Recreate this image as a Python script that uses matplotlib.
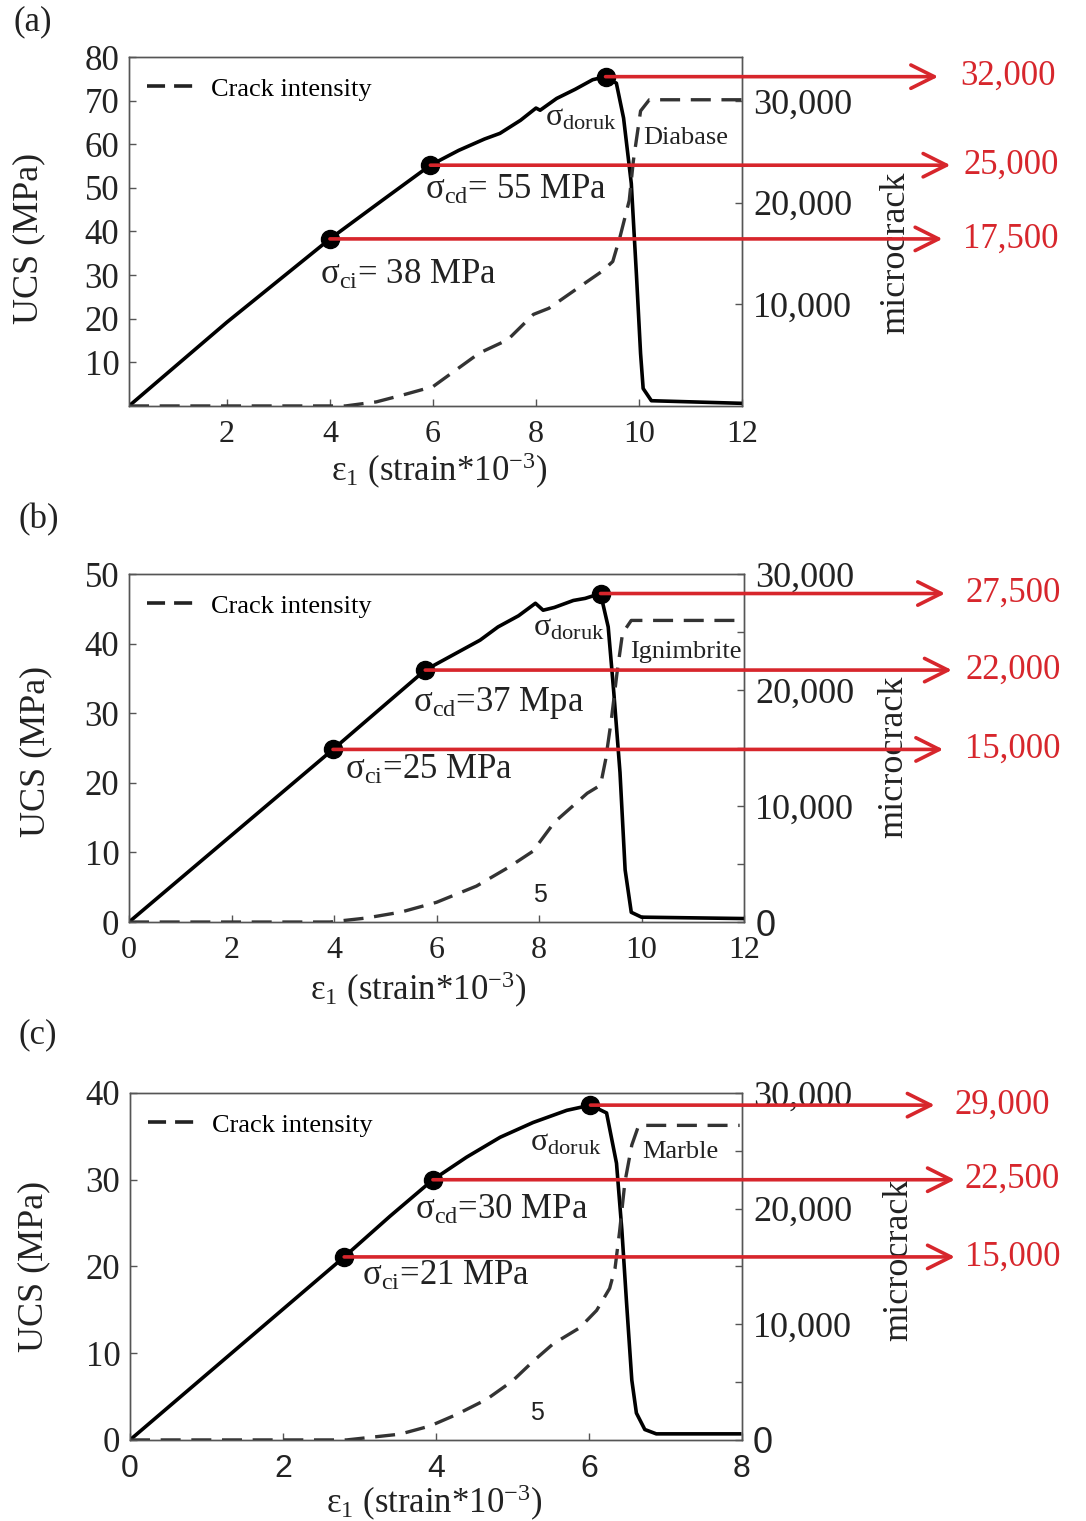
import matplotlib
matplotlib.use('Agg')
import matplotlib.pyplot as plt
import matplotlib.transforms as mtransforms
from matplotlib.lines import Line2D

plt.rcParams['font.family'] = ['Liberation Serif', 'DejaVu Serif']
plt.rcParams['mathtext.fontset'] = 'custom'
plt.rcParams['mathtext.rm'] = 'Liberation Serif'
plt.rcParams['mathtext.it'] = 'Liberation Serif:italic'
plt.rcParams['mathtext.bf'] = 'Liberation Serif:bold'

# (a) Diabase
strain_a = [0.1, 2, 4.0, 5, 5.95, 6.5, 7, 7.3, 7.7, 8.0, 8.08, 8.4, 8.76, 9.1, 9.35, 9.56, 9.7, 9.85, 9.95, 10.03, 10.08, 10.24, 12]
ucs_a = [0, 19.2, 38.3, 47, 55.2, 58.6, 61.2, 62.5, 65.5, 68.3, 67.8, 70.5, 72.6, 74.8, 75.5, 74, 66, 51, 30, 12, 4, 1.2, 0.6]
crack_strain_a = [0.1, 4.3, 4.9, 5.43, 6.0, 6.9, 7.45, 7.95, 8.25, 8.9, 9.3, 9.49, 9.63, 9.81, 9.89, 10.03, 10.2, 12]
crack_a = [0, 0, 400, 1100, 1900, 5200, 6500, 9000, 9600, 11900, 13300, 14200, 16600, 20200, 24100, 29000, 30100, 30100]
dots_a = [(4.0, 38.3), (5.95, 55.2), (9.35, 75.5)]
arrow_labels_a = ['17,500', '25,000', '32,000']

# (b) Ignimbrite
strain_b = [0, 3.98, 5.78, 6.85, 7.2, 7.6, 7.93, 8.08, 8.3, 8.67, 8.9, 9.2, 9.35, 9.46, 9.58, 9.68, 9.8, 10.0, 12]
ucs_b = [0, 24.8, 36.2, 40.5, 42.4, 44.0, 45.8, 44.8, 45.2, 46.2, 46.5, 47.2, 42.4, 32.9, 21.5, 7.5, 1.4, 0.7, 0.5]
crack_strain_b = [0, 3.92, 4.62, 5.31, 6.0, 6.78, 7.4, 7.88, 8.3, 8.94, 9.2, 9.3, 9.41, 9.52, 9.63, 9.8, 12]
crack_b = [0, 0, 340, 860, 1700, 3100, 4700, 6100, 8600, 11100, 11800, 14000, 17400, 21400, 24900, 26000, 26000]
dots_b = [(3.98, 24.8), (5.78, 36.2), (9.2, 47.2)]
arrow_labels_b = ['15,000', '22,000', '27,500']

# (c) Marble
strain_c = [0, 2.8, 3.4, 3.96, 4.4, 4.84, 5.27, 5.71, 6.02, 6.23, 6.36, 6.43, 6.49, 6.56, 6.62, 6.73, 6.88, 7.97]
ucs_c = [0, 21.1, 25.8, 30.0, 32.6, 34.9, 36.6, 38.0, 38.6, 37.7, 31.9, 24.2, 16, 6.9, 3.1, 1.2, 0.7, 0.7]
crack_strain_c = [0, 2.83, 3.53, 3.92, 4.27, 4.66, 5.0, 5.27, 5.53, 5.88, 6.1, 6.27, 6.34, 6.4, 6.47, 6.56, 6.65, 7.97]
crack_c = [0, 0, 500, 1200, 2200, 3500, 5100, 6800, 8300, 9700, 11200, 13100, 14800, 18000, 22300, 25500, 27200, 27200]
dots_c = [(2.8, 21.1), (3.96, 30.0), (6.02, 38.6)]
arrow_labels_c = ['15,000', '22,500', '29,000']

red = '#d7262c'
dash = (0, (6, 3.2))

fig = plt.figure(figsize=(10.86, 15.21), dpi=100)

panels = [
    dict(rect=[0.1188, 0.7331, 0.5645, 0.2294], letter='(a)', letter_y=0.9855,
         strain=strain_a, ucs=ucs_a, cs=crack_strain_a, crack=crack_a, dots=dots_a,
         arrow_labels=arrow_labels_a, arrow_x=[1.327, 1.34, 1.32], text_x=[1.361, 1.361, 1.356],
         xlim=(0.1, 12), xticks=[2, 4, 6, 8, 10, 12], ylim=(0, 80), yticks=[10, 20, 30, 40, 50, 60, 70, 80],
         ylim2=(0, 34300), yticks2=[10000, 20000, 30000], ylabels2=['10,000', '20,000', '30,000'],
         rock='Diabase', rock_xy=(10.08, 61.5), doruk_xy=(8.17, 66),
         cd_text='σ$_{\\mathrm{cd}}$= 55 MPa', cd_xy=(5.84, 49.5),
         ci_text='σ$_{\\mathrm{ci}}$= 38 MPa', ci_xy=(3.8, 30), five=None,
         xl=(0.506, -0.13), yl=(-0.137, 0.48), yl2=(1.223, 0.44), sans_x=False),
    dict(rect=[0.1188, 0.3938, 0.5663, 0.2288], letter='(b)', letter_y=0.658,
         strain=strain_b, ucs=ucs_b, cs=crack_strain_b, crack=crack_b, dots=dots_b,
         arrow_labels=arrow_labels_b, arrow_x=[1.324, 1.338, 1.327], text_x=[1.36, 1.36, 1.36],
         xlim=(0, 12), xticks=[0, 2, 4, 6, 8, 10, 12], ylim=(0, 50), yticks=[0, 10, 20, 30, 40, 50],
         ylim2=(0, 30000), yticks2=[0, 5000, 10000, 15000, 20000, 25000, 30000],
         ylabels2=['0', '', '10,000', '', '20,000', '', '30,000'],
         rock='Ignimbrite', rock_xy=(9.78, 38.8), doruk_xy=(7.88, 42.2),
         cd_text='σ$_{\\mathrm{cd}}$=37 Mpa', cd_xy=(5.54, 31.5),
         ci_text='σ$_{\\mathrm{ci}}$=25 MPa', ci_xy=(4.21, 21.8), five=(8.02, 3.9),
         xl=(0.47, -0.138), yl=(-0.125, 0.49), yl2=(1.216, 0.474), sans_x=False),
    dict(rect=[0.1197, 0.0533, 0.5635, 0.2281], letter='(c)', letter_y=0.3195,
         strain=strain_c, ucs=ucs_c, cs=crack_strain_c, crack=crack_c, dots=dots_c,
         arrow_labels=arrow_labels_c, arrow_x=[1.348, 1.348, 1.315], text_x=[1.364, 1.364, 1.348],
         xlim=(0, 8), xticks=[0, 2, 4, 6, 8], ylim=(0, 40), yticks=[0, 10, 20, 30, 40],
         ylim2=(0, 30000), yticks2=[0, 5000, 10000, 15000, 20000, 25000, 30000],
         ylabels2=['0', '', '10,000', '', '20,000', '', '30,000'],
         rock='Marble', rock_xy=(6.69, 33.2), doruk_xy=(5.23, 34.2),
         cd_text='σ$_{\\mathrm{cd}}$=30 MPa', cd_xy=(3.73, 26.5),
         ci_text='σ$_{\\mathrm{ci}}$=21 MPa', ci_xy=(3.03, 18.9), five=(5.32, 3.1),
         xl=(0.498, -0.124), yl=(-0.13, 0.5), yl2=(1.23, 0.52), sans_x=True),
]

for p in panels:
    ax = fig.add_axes(p['rect'])
    ax2 = ax.twinx()
    for a in (ax, ax2):
        for s in a.spines.values():
            s.set_color('#555555')
            s.set_linewidth(1.0)

    ax.plot(p['strain'], p['ucs'], color='black', lw=2.6, solid_joinstyle='round', zorder=3)
    ax2.plot(p['cs'], p['crack'], color='#333333', lw=2.4, linestyle=dash, zorder=2)

    ax.set_xlim(*p['xlim'])
    ax.set_ylim(*p['ylim'])
    ax.set_xticks(p['xticks'])
    ax.set_yticks(p['yticks'])
    ax2.set_ylim(*p['ylim2'])
    ax2.set_yticks(p['yticks2'], p['ylabels2'])

    ax.tick_params(axis='both', direction='in', length=5, width=1, color='#555555',
                   labelcolor='#222222', labelsize=23)
    ax.tick_params(axis='y', pad=7, labelsize=25)
    ax.tick_params(axis='x', pad=10)
    ax2.tick_params(axis='y', direction='in', length=5, width=1, color='#555555',
                    labelcolor='#222222', labelsize=26, pad=8)
    for lbl in ax2.get_yticklabels():
        if lbl.get_text() == '0':
            lbl.set_fontfamily('Liberation Sans')
    if p['sans_x']:
        for lbl in ax.get_xticklabels():
            lbl.set_fontfamily('Liberation Sans')

    ax.set_xlabel('ε$_1$ (strain*10$^{-3}$)', fontsize=25, color='#222222')
    ax.xaxis.set_label_coords(*p['xl'])
    ax.set_ylabel('UCS (MPa)', fontsize=26, color='#222222')
    ax.yaxis.set_label_coords(*p['yl'])
    ax2.set_ylabel('microcrack', fontsize=26, color='#222222')
    ax2.yaxis.set_label_coords(*p['yl2'])

    # legend for crack intensity
    h = Line2D([], [], color='#222222', lw=2.6, linestyle=(0, (5, 2.5)))
    ax2.legend([h], ['Crack intensity'], loc='upper left', frameon=False, fontsize=19,
               handlelength=1.9, handletextpad=0.5, borderaxespad=0.3,
               bbox_to_anchor=(0.0, 0.995))

    # red arrows from the characteristic stress points
    blend = mtransforms.blended_transform_factory(ax.transAxes, ax.transData)
    for (x, y), lab, xe, xt in zip(p['dots'], p['arrow_labels'], p['arrow_x'], p['text_x']):
        ax2.annotate('', xy=(xe, y), xycoords=blend, xytext=(x, y), textcoords=ax.transData,
                     arrowprops=dict(arrowstyle='->', color=red, lw=2.6, mutation_scale=42,
                                     shrinkA=0, shrinkB=0),
                     annotation_clip=False, zorder=6)
        ax2.text(xt, y, lab, transform=blend, color=red, fontsize=25, va='center', ha='left',
                 clip_on=False)
    dx = [d[0] for d in p['dots']]
    dy = [d[1] for d in p['dots']]
    ax2.plot(dx, dy, 'o', color='black', ms=13, transform=ax.transData, zorder=5, clip_on=False)

    ax.text(p['doruk_xy'][0], p['doruk_xy'][1], 'σ$_{\\mathrm{doruk}}$', fontsize=23,
            va='center', ha='left', color='#222222')
    ax.text(p['rock_xy'][0], p['rock_xy'][1], p['rock'], fontsize=19,
            va='center', ha='left', color='#222222')
    ax.text(p['cd_xy'][0], p['cd_xy'][1], p['cd_text'], fontsize=25,
            va='center', ha='left', color='#222222')
    ax.text(p['ci_xy'][0], p['ci_xy'][1], p['ci_text'], fontsize=25,
            va='center', ha='left', color='#222222')
    if p['five'] is not None:
        ax.text(p['five'][0], p['five'][1], '5', fontsize=18, family='Liberation Sans',
                va='center', ha='center', color='#222222')

    fig.text(0.012 if p['letter'] == '(a)' else 0.017, p['letter_y'], p['letter'],
             fontsize=25, va='center', ha='left', color='#222222')

fig.savefig('out.png', dpi=100)
